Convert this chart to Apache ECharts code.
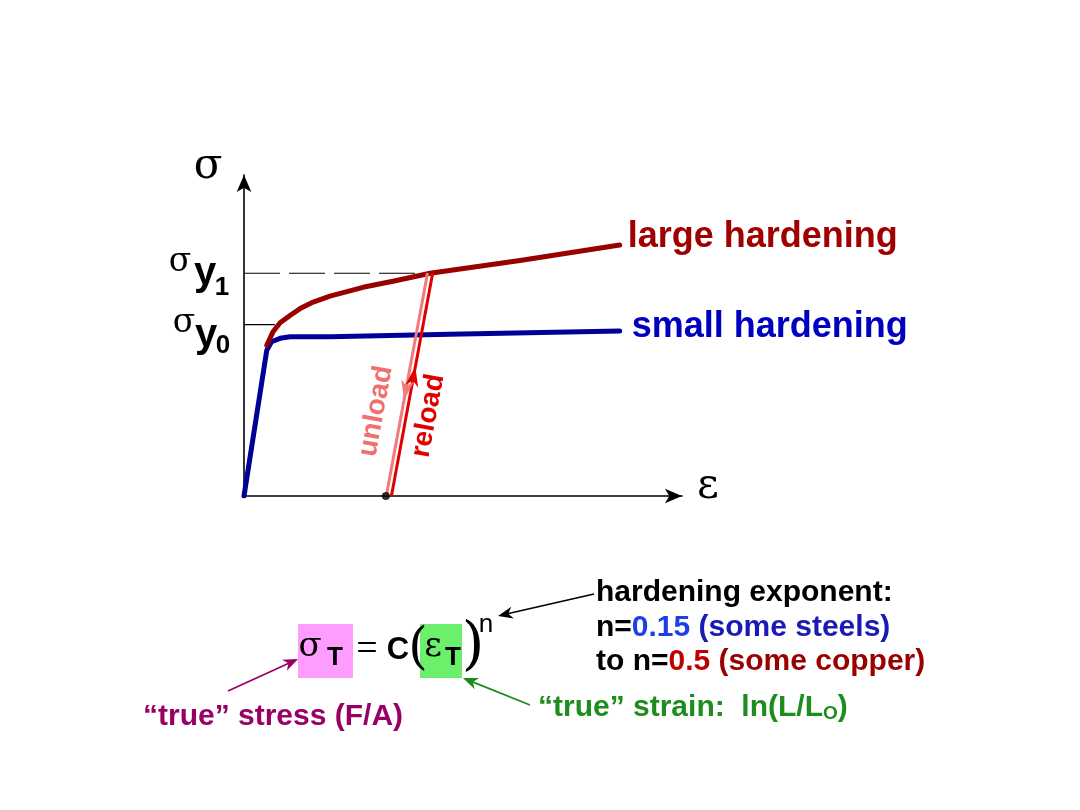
<!DOCTYPE html>
<html><head><meta charset="utf-8">
<script src="https://cdn.jsdelivr.net/npm/echarts@6/dist/echarts.min.js"></script>
<style>html,body{margin:0;padding:0;background:#fff}#c{width:1080px;height:810px}</style>
</head><body><div id="c"></div>
<script>
// ---- data (strain, stress in arbitrary units) ----
const smallStrain = [0, 5.3, 6.4, 8.4, 10.7, 20, 47.9, 87.4];
const smallStress = [0, 46.6, 49.3, 50.4, 50.9, 50.9, 51.7, 52.7];
const largeStrain = [5.3, 6.8, 8.4, 10.7, 13.4, 16.1, 20, 27.7, 35.5, 43.3, 64.2, 87.4];
const largeStress = [48.2, 52.6, 55.4, 57.7, 60.2, 62, 63.9, 66.7, 68.9, 71.2, 75.3, 80.2];
const unloadStrain = [42.7, 33.1];
const unloadStress = [71.3, 0];
const reloadStrain = [34.3, 43.9];
const reloadStress = [0, 71.3];
const sigmaY1 = 71.2, sigmaY1Strain = 43.3;
const sigmaY0 = 54.8, sigmaY0Strain = 7.2;
const residualStrain = 33;
const seriesNames = ['small hardening', 'large hardening'];

const zip = (a, b) => a.map((v, i) => [v, b[i]]);
const SERIF = "'DejaVu Serif','Liberation Serif',serif";
const SERIF2 = "'Liberation Serif','DejaVu Serif',serif";
const SANS = "'Liberation Sans',Arial,sans-serif";

const chart = echarts.init(document.getElementById('c'), null, {renderer: 'canvas'});
const axisCommon = {
  type: 'value', min: 0,
  axisLine: {show: true, symbol: ['none', 'arrow'], symbolSize: [11, 17], lineStyle: {color: '#000', width: 1.6}},
  axisTick: {show: false}, axisLabel: {show: false}, splitLine: {show: false}
};
chart.setOption({
  animation: false,
  backgroundColor: '#fff',
  grid: {left: 244, top: 175, right: 398, bottom: 314},
  xAxis: Object.assign({max: 101.9}, axisCommon),
  yAxis: Object.assign({max: 102.6}, axisCommon),
  series: [
    {type: 'line', name: 'yield1', data: [[0, sigmaY1], [sigmaY1Strain, sigmaY1]], symbol: 'none', silent: true,
     lineStyle: {color: '#000', width: 1.2, type: [36, 9]}, z: 1},
    {type: 'line', name: 'yield0', data: [[0, sigmaY0], [sigmaY0Strain, sigmaY0]], symbol: 'none', silent: true,
     lineStyle: {color: '#000', width: 1.2}, z: 1},
    {type: 'line', name: seriesNames[0], data: zip(smallStrain, smallStress), symbol: 'none',
     lineStyle: {color: '#000099', width: 5, join: 'round', cap: 'round'}, z: 2,
     endLabel: {show: true, formatter: seriesNames[0], color: '#0000c0', fontFamily: SANS, fontWeight: 'bold', fontSize: 36, offset: [4, -4]}},
    {type: 'line', name: seriesNames[1], data: zip(largeStrain, largeStress), symbol: 'none',
     lineStyle: {color: '#990000', width: 5, join: 'round', cap: 'round'}, z: 3,
     endLabel: {show: true, formatter: seriesNames[1], color: '#a00000', fontFamily: SANS, fontWeight: 'bold', fontSize: 36, offset: [0, -8]}},
    {type: 'line', name: 'unload', data: zip(unloadStrain, unloadStress), symbol: 'none',
     lineStyle: {color: '#f27a7a', width: 3}, z: 4},
    {type: 'line', name: 'reload', data: zip(reloadStrain, reloadStress), symbol: 'none',
     lineStyle: {color: '#e00000', width: 3}, z: 4},
    {type: 'scatter', data: [[residualStrain, 0]], symbolSize: 8, itemStyle: {color: '#000'}, z: 5}
  ]
});

function arrowHead(tipX, tipY, dirX, dirY, len, wid, color) {
  const l = Math.hypot(dirX, dirY); const ux = dirX / l, uy = dirY / l;
  const px = -uy, py = ux;
  const bx = tipX - ux * len, by = tipY - uy * len;
  const nx = tipX - ux * len * 0.7, ny = tipY - uy * len * 0.7;
  return {type: 'polygon', shape: {points: [[tipX, tipY], [bx + px * wid / 2, by + py * wid / 2], [nx, ny], [bx - px * wid / 2, by - py * wid / 2]]},
          style: {fill: color}, z: 20};
}
function arrow(x1, y1, x2, y2, color, w) {
  return [
    {type: 'line', shape: {x1: x1, y1: y1, x2: x2 - (x2 - x1) * 0.03, y2: y2 - (y2 - y1) * 0.03}, style: {stroke: color, lineWidth: w}, z: 20},
    arrowHead(x2, y2, x2 - x1, y2 - y1, 15, 12, color)
  ];
}
function txt(x, y, text, font, color, extra) {
  return Object.assign({type: 'text', x: x, y: y, z: 30,
    style: Object.assign({text: text, font: font, fill: color, align: 'center', verticalAlign: 'middle'}, extra || {})});
}

const P = (d) => chart.convertToPixel({gridIndex: 0}, d);
const u0 = P([unloadStrain[0], unloadStress[0]]), u1 = P([unloadStrain[1], unloadStress[1]]);
const r0 = P([reloadStrain[0], reloadStress[0]]), r1 = P([reloadStrain[1], reloadStress[1]]);
const lerp = (a, b, t) => [a[0] + (b[0] - a[0]) * t, a[1] + (b[1] - a[1]) * t];
const uTip = lerp(u0, u1, 0.57), rTip = lerp(r0, r1, 0.58);
const ang = Math.atan2(-(r1[1] - r0[1]), r1[0] - r0[0]);
const uMid = lerp(u0, u1, 0.62), rMid = lerp(r0, r1, 0.36);

const g = [
  arrowHead(uTip[0], uTip[1], u1[0] - u0[0], u1[1] - u0[1], 20, 13, '#f27a7a'),
  arrowHead(rTip[0], rTip[1], r1[0] - r0[0], r1[1] - r0[1], 20, 13, '#e00000'),
  txt(uMid[0] - 26, uMid[1], 'unload', 'bold 28px ' + SANS, '#f07070', {}),
  txt(rMid[0] + 22, rMid[1], 'reload', 'bold 28px ' + SANS, '#e00000', {}),
  // axis labels
  txt(208, 167, 'σ', '42px ' + SERIF, '#000'),
  txt(708, 487, 'ε', '42px ' + SERIF, '#000'),
  // sigma y1
  txt(180, 262, 'σ', '33px ' + SERIF, '#000'),
  txt(205, 274, 'y', 'bold 40px ' + SANS, '#000'),
  txt(222, 288, '1', 'bold 26px ' + SANS, '#000'),
  // sigma y0
  txt(184, 323, 'σ', '33px ' + SERIF, '#000'),
  txt(206, 336, 'y', 'bold 40px ' + SANS, '#000'),
  txt(223, 346, '0', 'bold 26px ' + SANS, '#000'),
  // formula boxes
  {type: 'rect', shape: {x: 298, y: 624, width: 55, height: 54}, style: {fill: '#ff9cff'}, z: 10},
  {type: 'rect', shape: {x: 420, y: 624, width: 42, height: 54}, style: {fill: '#6cf06c'}, z: 10},
  txt(310, 647, 'σ', '34px ' + SERIF, '#000'),
  txt(335, 658, 'T', 'bold 26px ' + SANS, '#000'),
  txt(367, 650, '=', '38px ' + SERIF2, '#000'),
  txt(398, 650, 'C', 'bold 31px ' + SANS, '#000'),
  txt(418, 650, '(', '50px ' + SERIF, '#000'),
  txt(433, 647, 'ε', '34px ' + SERIF, '#000'),
  txt(453, 658, 'T', 'bold 26px ' + SANS, '#000'),
  txt(473, 648, ')', '58px ' + SERIF, '#000'),
  txt(486, 625, 'n', '26px ' + SANS, '#000'),
  // right-hand notes
  {type: 'text', x: 596, y: 593, z: 30, style: {text: 'hardening exponent:', font: 'bold 30px ' + SANS, fill: '#000', verticalAlign: 'middle'}},
  {type: 'text', x: 596, y: 628, z: 30, style: {text: '{k|n=}{b|0.15}{c| (some steels)}', verticalAlign: 'middle',
    rich: {k: {font: 'bold 30px ' + SANS, fill: '#000'}, b: {font: 'bold 30px ' + SANS, fill: '#1f3fe6'}, c: {font: 'bold 30px ' + SANS, fill: '#1a1ab4'}}}},
  {type: 'text', x: 596, y: 662, z: 30, style: {text: '{k|to n=}{b|0.5}{c| (some copper)}', verticalAlign: 'middle',
    rich: {k: {font: 'bold 30px ' + SANS, fill: '#000'}, b: {font: 'bold 30px ' + SANS, fill: '#c00000'}, c: {font: 'bold 30px ' + SANS, fill: '#990000'}}}},
  {type: 'text', x: 143, y: 717, z: 30, style: {text: '“true” stress (F/A)', font: 'bold 30px ' + SANS, fill: '#990066', verticalAlign: 'middle'}},
  {type: 'text', x: 538, y: 708, z: 30, style: {text: '{a|“true” strain:  ln(L/L}{s|O}{a|)}', verticalAlign: 'middle',
    rich: {a: {font: 'bold 30px ' + SANS, fill: '#1e8c1e'}, s: {font: 'bold 19px ' + SANS, fill: '#1e8c1e', verticalAlign: 'bottom', padding: [12, 0, 0, 0]}}}},
].concat(
  arrow(594, 594, 498, 616, '#000', 1.5),
  arrow(228, 691, 298, 659, '#990066', 1.8),
  arrow(530, 705, 463, 678, '#1a8a1a', 1.8)
);
g[2].rotation = ang; g[3].rotation = ang;
chart.setOption({graphic: {elements: g}});
</script>
</body></html>
